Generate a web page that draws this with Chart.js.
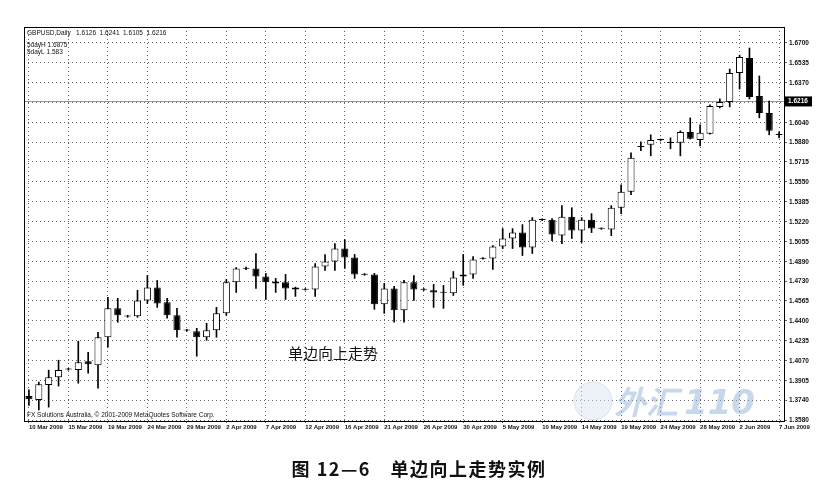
<!DOCTYPE html>
<html>
<head>
<meta charset="utf-8">
<script src="https://cdn.jsdelivr.net/npm/chart.js@4.4.0/dist/chart.umd.min.js"></script>
<style>
  body { margin: 0; background: #fff; }
  #wrap { position: relative; width: 838px; height: 497px; }
  #note { position: absolute; left: 288px; top: 342px; font: 15px "Noto Sans CJK SC"; color: #111; }
  #caption { position: absolute; left: 0; width: 838px; top: 455px; text-align: center;
             font: bold 18px "Noto Sans CJK SC"; color: #111; letter-spacing: 1.5px; }
</style>
</head>
<body>
<div id="wrap">
  <canvas id="mycanvas" width="838" height="497"></canvas>
  <div id="note">单边向上走势</div>
  <div id="caption">图 12—6　单边向上走势实例</div>
</div>
<script>
var dates = [
  "10 Mar 2009","11 Mar 2009","12 Mar 2009","13 Mar 2009","15 Mar 2009","16 Mar 2009","17 Mar 2009","18 Mar 2009",
  "19 Mar 2009","20 Mar 2009","22 Mar 2009","23 Mar 2009","24 Mar 2009","25 Mar 2009","26 Mar 2009","27 Mar 2009",
  "29 Mar 2009","30 Mar 2009","31 Mar 2009","1 Apr 2009","2 Apr 2009","3 Apr 2009","5 Apr 2009","6 Apr 2009",
  "7 Apr 2009","8 Apr 2009","9 Apr 2009","10 Apr 2009","12 Apr 2009","13 Apr 2009","14 Apr 2009","15 Apr 2009",
  "16 Apr 2009","17 Apr 2009","19 Apr 2009","20 Apr 2009","21 Apr 2009","22 Apr 2009","23 Apr 2009","24 Apr 2009",
  "26 Apr 2009","27 Apr 2009","28 Apr 2009","29 Apr 2009","30 Apr 2009","1 May 2009","3 May 2009","4 May 2009",
  "5 May 2009","6 May 2009","7 May 2009","8 May 2009","10 May 2009","11 May 2009","12 May 2009","13 May 2009",
  "14 May 2009","15 May 2009","17 May 2009","18 May 2009","19 May 2009","20 May 2009","21 May 2009","22 May 2009",
  "24 May 2009","25 May 2009","26 May 2009","27 May 2009","28 May 2009","29 May 2009","31 May 2009","1 Jun 2009",
  "2 Jun 2009","3 Jun 2009","4 Jun 2009","5 Jun 2009","7 Jun 2009"
];

var opens = [
  1.3778,1.3745,1.3869,1.3935,1.3998,1.3993,1.4067,1.4034,1.4265,1.4504,1.4440,1.4438,1.4570,1.4677,1.4554,1.4446,
  1.4325,1.4314,1.4265,1.4323,1.4463,1.4719,1.4832,1.4834,1.4768,1.4727,1.4719,1.4677,1.4663,1.4661,1.4851,1.4892,
  1.4999,1.4925,1.4787,1.4785,1.4537,1.4669,1.4488,1.4719,1.4659,1.4653,1.4634,1.4628,1.4768,1.4785,1.4915,1.4917,
  1.5016,1.5082,1.5131,1.5007,1.5236,1.5238,1.5106,1.5263,1.5148,1.5238,1.5166,1.5156,1.5337,1.5469,1.5839,1.5857,
  1.5896,1.5872,1.5874,1.5964,1.5898,1.5948,1.6171,1.6212,1.6451,1.6575,1.6261,1.6121,1.5938
];
var highs = [
  1.3830,1.3894,1.3993,1.4075,1.4008,1.4232,1.4141,1.4306,1.4595,1.4587,1.4446,1.4653,1.4776,1.4735,1.4587,1.4504,
  1.4330,1.4339,1.4380,1.4512,1.4743,1.4842,1.4845,1.4958,1.4793,1.4752,1.4785,1.4680,1.4668,1.4875,1.4950,1.5040,
  1.5073,1.4950,1.4792,1.4793,1.4710,1.4686,1.4735,1.4776,1.4668,1.4702,1.4694,1.4809,1.4950,1.4933,1.4925,1.5024,
  1.5164,1.5164,1.5197,1.5255,1.5245,1.5247,1.5354,1.5337,1.5255,1.5288,1.5170,1.5354,1.5527,1.5791,1.5882,1.5940,
  1.5905,1.5915,1.5973,1.6080,1.6022,1.6187,1.6237,1.6484,1.6600,1.6658,1.6427,1.6220,1.5964
];
var lows = [
  1.3700,1.3663,1.3687,1.3861,1.3993,1.3885,1.3968,1.3844,1.4182,1.4389,1.4430,1.4430,1.4545,1.4512,1.4422,1.4265,
  1.4315,1.4108,1.4240,1.4265,1.4446,1.4636,1.4825,1.4669,1.4578,1.4636,1.4578,1.4603,1.4655,1.4603,1.4818,1.4818,
  1.4834,1.4752,1.4778,1.4496,1.4463,1.4389,1.4389,1.4570,1.4652,1.4512,1.4504,1.4611,1.4694,1.4752,1.4910,1.4826,
  1.4999,1.4999,1.4941,1.4958,1.5230,1.5065,1.5040,1.5082,1.5049,1.5131,1.5158,1.5106,1.5288,1.5445,1.5808,1.5766,
  1.5890,1.5824,1.5766,1.5905,1.5849,1.5945,1.6162,1.6171,1.6319,1.6237,1.6080,1.5940,1.5915
];
var closes = [
  1.3752,1.3877,1.3935,1.3993,1.4003,1.4059,1.4042,1.4265,1.4504,1.4446,1.4436,1.4570,1.4677,1.4545,1.4446,1.4323,
  1.4321,1.4265,1.4323,1.4463,1.4719,1.4834,1.4836,1.4768,1.4719,1.4710,1.4669,1.4661,1.4659,1.4851,1.4892,1.4999,
  1.4925,1.4785,1.4783,1.4537,1.4669,1.4488,1.4719,1.4661,1.4663,1.4636,1.4638,1.4760,1.4785,1.4908,1.4919,1.5016,
  1.5082,1.5131,1.5007,1.5238,1.5240,1.5115,1.5263,1.5148,1.5238,1.5164,1.5162,1.5337,1.5469,1.5750,1.5843,1.5898,
  1.5900,1.5876,1.5964,1.5907,1.5956,1.6179,1.6212,1.6451,1.6583,1.6253,1.6121,1.5973,1.5942
];

var yTicks = [1.3580,1.3740,1.3905,1.4070,1.4235,1.4400,1.4565,1.4730,1.4890,1.5055,
              1.5220,1.5385,1.5550,1.5715,1.5880,1.6040,1.6205,1.6370,1.6535,1.6700];
var headerBar = [1.6126, 1.6241, 1.6105, 1.6216];
var lastPrice = 1.6216;
var fiveDayHigh = "1.6875";
var fiveDayLow = "1.583";

var bodies = [], wicks = [];
for (var i in dates) {
  bodies.push([opens[i], closes[i]]);
  wicks.push([lows[i], highs[i]]);
}

var smallFont = '"Liberation Sans", Arial, sans-serif';

var framePlugin = {
  id: 'frame',
  beforeDatasetsDraw: function(chart) {
    var ctx = chart.ctx, a = chart.chartArea, y = chart.scales.y;
    var py = Math.round(y.getPixelForValue(lastPrice)) + 0.5;
    ctx.save();
    ctx.strokeStyle = '#9a9a9a';
    ctx.lineWidth = 1;
    ctx.beginPath();
    ctx.moveTo(a.left, py);
    ctx.lineTo(a.right, py);
    ctx.stroke();
    ctx.restore();
  },
  afterDraw: function(chart) {
    var ctx = chart.ctx, a = chart.chartArea, y = chart.scales.y;
    ctx.save();
    ctx.strokeStyle = '#000';
    ctx.lineWidth = 1;
    ctx.strokeRect(a.left + 0.5, a.top + 0.5, a.right - a.left, a.bottom - a.top);

    // current price box
    var py = y.getPixelForValue(lastPrice);
    ctx.fillStyle = '#000';
    ctx.fillRect(a.right + 1, py - 5, 27, 10);
    ctx.fillStyle = '#fff';
    ctx.font = 'bold 6.5px ' + smallFont;
    ctx.textBaseline = 'middle';
    ctx.fillText(lastPrice.toFixed(4), a.right + 4, py);

    // header texts
    ctx.fillStyle = '#111';
    ctx.textBaseline = 'alphabetic';
    ctx.font = '6.5px ' + smallFont;
    ctx.fillText('GBPUSD,Daily   ' + headerBar.map(function(v){ return v.toFixed(4); }).join('  '), a.left + 3, a.top + 8);
    ctx.fillText('5dayH ' + fiveDayHigh, a.left + 3, a.top + 20);
    ctx.fillText('5dayL ' + fiveDayLow, a.left + 3, a.top + 27);
    ctx.fillText('FX Solutions Australia, \u00a9 2001-2009 MetaQuotes Software Corp.', a.left + 3, a.bottom - 4);

    // watermark
    ctx.globalAlpha = 0.5;
    ctx.fillStyle = '#dbe6f3';
    ctx.strokeStyle = '#b9c9e0';
    ctx.beginPath();
    ctx.arc(593, 401, 19, 0, Math.PI * 2);
    ctx.fill();
    ctx.stroke();
    ctx.fillStyle = '#8fb0da';
    ctx.font = 'italic bold 32px "Noto Sans CJK SC"';
    ctx.fillText('外汇', 614, 414);
    ctx.font = 'italic bold 34px "DejaVu Sans"';
    ctx.fillText('110', 684, 414);
    ctx.restore();
  }
};

var ctx = document.getElementById('mycanvas');

var chart = new Chart(ctx, {
  type: 'bar',
  data: {
    labels: dates,
    datasets: [
      {
        label: 'Body',
        data: bodies,
        grouped: false,
        backgroundColor: function(c) { return closes[c.dataIndex] >= opens[c.dataIndex] ? '#ffffff' : '#000000'; },
        borderColor: '#000000',
        borderWidth: 1,
        borderSkipped: false,
        minBarLength: 1,
        barPercentage: 0.72,
        categoryPercentage: 1.0
      },
      {
        label: 'Wick',
        data: wicks,
        grouped: false,
        backgroundColor: '#000000',
        borderWidth: 0,
        barThickness: 1
      }
    ]
  },
  options: {
    responsive: false,
    animation: false,
    devicePixelRatio: 1,
    layout: { padding: { left: 24, top: 27, right: 0, bottom: 62 } },
    plugins: { legend: { display: false }, tooltip: { enabled: false } },
    scales: {
      x: {
        offset: true,
        afterFit: function(s) { s.height = 14; },
        grid: {
          offset: false,
          color: function(c) { return c.index % 4 === 0 ? '#666' : 'rgba(0,0,0,0)'; },
          lineWidth: 1,
          drawTicks: true,
          tickLength: 2,
          tickBorderDash: []
        },
        border: { display: true, color: '#000', width: 1, dash: [1, 3] },
        ticks: {
          autoSkip: false,
          maxRotation: 0,
          align: 'start',
          padding: 1,
          color: '#111',
          font: { family: smallFont, size: 6, weight: 'bold' },
          callback: function(v, idx) { return idx % 4 === 0 ? this.getLabelForValue(v) : ''; }
        }
      },
      y: {
        position: 'right',
        min: 1.3572,
        max: 1.6832,
        afterFit: function(s) { s.width = 54; },
        afterBuildTicks: function(s) { s.ticks = yTicks.map(function(v){ return { value: v }; }); },
        grid: { color: '#666', lineWidth: 1, drawTicks: true, tickLength: 3, tickBorderDash: [] },
        border: { display: true, color: '#000', width: 1, dash: [1, 3] },
        ticks: {
          padding: 2,
          color: '#111',
          font: { family: smallFont, size: 6.5, weight: 'bold' },
          callback: function(v) { return v.toFixed(4); }
        }
      }
    }
  },
  plugins: [framePlugin]
});
</script>
</body>
</html>
